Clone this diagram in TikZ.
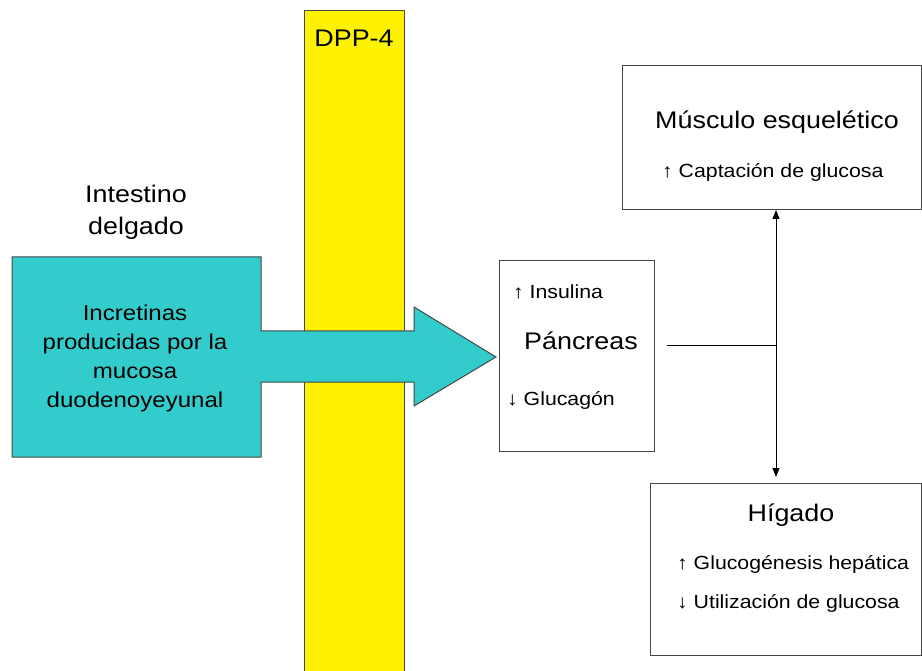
\documentclass[tikz,border=0pt]{standalone}
\usepackage{fontspec}
\setmainfont{Liberation Sans}[FakeStretch=1.12]
\usetikzlibrary{positioning}
\usetikzlibrary{arrows.meta}
\definecolor{tealfill}{RGB}{51,204,204}
\definecolor{edgegray}{RGB}{70,70,70}

\begin{document}
\begin{tikzpicture}[x=1pt,y=-1pt,
    organbox/.style={draw=edgegray,fill=white,line width=1pt,anchor=north west,inner sep=0pt},
    bigtext/.style={font=\fontsize{24}{32}\selectfont,align=center},
    smalltext/.style={font=\fontsize{19}{22}\selectfont,anchor=west,inner sep=0pt},
    flecha/.style={-{Triangle[length=9pt,width=7pt]},line width=1pt}]
    \clip (0,0) rectangle (922,671);

    % barrera DPP-4
    \node[organbox,fill=yellow,minimum width=100pt,minimum height=680pt] (dpp) at (304,10) {};
    \node[bigtext] (dpplabel) at (354,38) {DPP-4};

    % intestino y flecha de incretinas
    \draw[draw=edgegray,fill=tealfill,line width=1pt] (12,257) -- (261,257) -- (261,331) -- (414,331) -- (414,307) -- (496,357) -- (414,406) -- (414,382) -- (261,382) -- (261,457) -- (12,457) -- cycle;
    \node[bigtext] (intestino) at (136,212) {Intestino\\delgado};
    \node[font=\fontsize{21.5}{29}\selectfont,align=center] (incretinas) at (135,358) {Incretinas\\producidas por la\\mucosa\\duodenoyeyunal};

    % pancreas
    \node[organbox,minimum width=155pt,minimum height=191pt] (pancreas) at (499,260) {};
    \node[smalltext] (insulina) at (513,292) {↑ Insulina};
    \node[bigtext] (pancname) at (581,341) {Páncreas};
    \node[smalltext] (glucagon) at (507,400) {↓ Glucagón};

    % musculo
    \node[organbox,minimum width=299pt,minimum height=144pt] (musculo) at (622,65) {};
    \node[bigtext] (muscname) at (777,122) {Músculo esquelético};
    \node[smalltext] (captacion) at (662,172) {↑ Captación de glucosa};

    % higado
    \node[organbox,minimum width=271pt,minimum height=172pt] (higado) at (650,483) {};
    \node[bigtext] (hignname) at (791,515) {Hígado};
    \node[smalltext] (glucogenesis) at (677,564) {↑ Glucogénesis hepática};
    \node[smalltext] (utilizacion) at (677,603) {↓ Utilización de glucosa};

    % conexiones
    \coordinate (pancout) at (667,346);
    \coordinate (junction) at (776,346);
    \draw[line width=1pt] (pancout) -- (junction);
    \draw[flecha] (junction) -- (musculo.south -| junction);
    \draw[flecha,shorten >=6pt] (junction) -- (higado.north -| junction);
\end{tikzpicture}
\end{document}
